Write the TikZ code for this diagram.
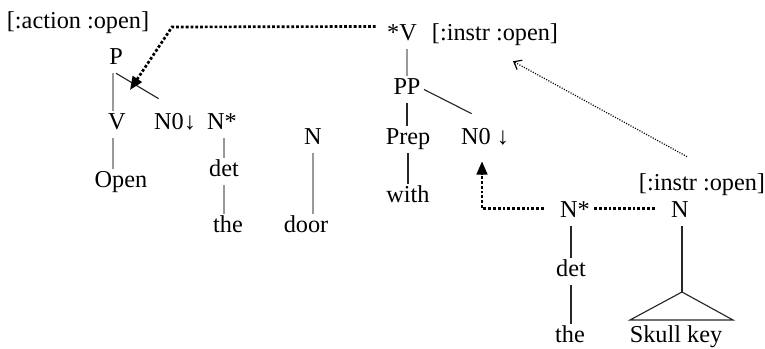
\documentclass[tikz,border=0pt]{standalone}
\usepackage{fontspec}
\setmainfont{Liberation Serif}
\usetikzlibrary{arrows.meta, calc}

\begin{document}
\begin{tikzpicture}[x=0.75pt, y=-0.75pt]
% 定义样式
\tikzstyle{word} = [anchor=base, inner sep=2.4pt, text height=11.9pt, text depth=3.6pt, font=\fontsize{18.2}{20}\selectfont]
\tikzstyle{lite} = [draw=black!40, line width=1.4pt]
\tikzstyle{dark} = [draw=black!85, line width=0.85pt]
\tikzstyle{bigdots} = [draw=black, line width=2pt, dash pattern=on 2.1pt off 1.5pt]
\tikzstyle{smalldots} = [draw=black, line width=0.9pt, dash pattern=on 0.8pt off 1.1pt]

\useasboundingbox (0,0) rectangle (765,349);

% 第一棵树
\node [word] (act) at (78,29) {[:action :open]};
\node [word] (p) at (116,65) {P};
\node [word] (v) at (117,130) {V};
\node [word] (noa) at (175,130) {N0↓};
\node [word] (open) at (121,188) {Open};

% 限定词树和 door
\node [word] (nsa) at (222,130) {N*};
\node [word] (deta) at (224,177) {det};
\node [word] (thea) at (228,233) {the};
\node [word] (nd) at (313,145) {N};
\node [word] (door) at (306,233) {door};

% 介词短语树
\node [word] (sv) at (402,41) {*V};
\node [word] (ins) at (495,41) {[:instr :open]};
\node [word] (pp) at (407,95) {PP};
\node [word] (prep) at (408,145) {Prep};
\node [word] (nob) at (485,145) {N0 ↓};
\node [word] (with) at (408,203) {with};

% 右边的名词短语
\node [word] (insb) at (702,191) {[:instr :open]};
\node [word] (nsb) at (575,218) {N*};
\node [word] (nr) at (680,218) {N};
\node [word] (detb) at (571,277) {det};
\node [word] (theb) at (570,343) {the};
\node [word] (skull) at (676,343) {Skull key};

\coordinate (bend) at (172,27);
\coordinate (tip) at (130,90);
\coordinate (apex) at (682,292);
\coordinate (trl) at (630,320);
\coordinate (trr) at (733,320);

% 树的边
\path [lite] ([xshift=-2]p.south) -- ([xshift=-2]p.south |- v.north);
\path [lite] ([xshift=-3]v.south) -- ([xshift=-3]v.south |- open.north);
\path [dark] (p.south) -- ([shift={(8,-12)}]noa.north west);
\path [lite] (deta.north |- nsa.south) -- (deta.north);
\path [lite] (deta.south) -- (deta.south |- thea.north);
\path [lite] (nd.south) -- (nd.south |- door.north);
\path [lite] (pp.north |- sv.south) -- (pp.north);
\path [dark] (pp.south) -- (pp.south |- prep.north);
\path [dark] (pp.east) -- ([shift={(14,-12)}]nob.north west);
\path [dark] (prep.south) -- (prep.south |- with.north);
\path [dark] (detb.north |- nsb.south) -- (detb.north);
\path [dark] (detb.south) -- (detb.south |- theb.north);
\path [dark] (apex |- nr.south) -- (apex);
\path [dark] (apex) -- (trl) -- (trr) -- cycle;

% 替换和附加
\draw [bigdots, -{Triangle[length=10pt, width=8pt]}] ([shift={(-8,-9)}]sv.west) -- (bend) -- (tip);
\draw [bigdots, -{Triangle[length=10pt, width=8pt]}] ([shift={(-13,-4)}]nsb.west) -| ([shift={(-3,8)}]nob.south);
\draw [bigdots] ([shift={(1,-4)}]nsb.east) -- ([shift={(-12,-4)}]nr.west);
\draw [smalldots, -{Straight Barb[length=5pt, width=8pt]}] ([shift={(-15,-15)}]insb.north) -- ([shift={(18,12)}]ins.south);
\end{tikzpicture}
\end{document}
